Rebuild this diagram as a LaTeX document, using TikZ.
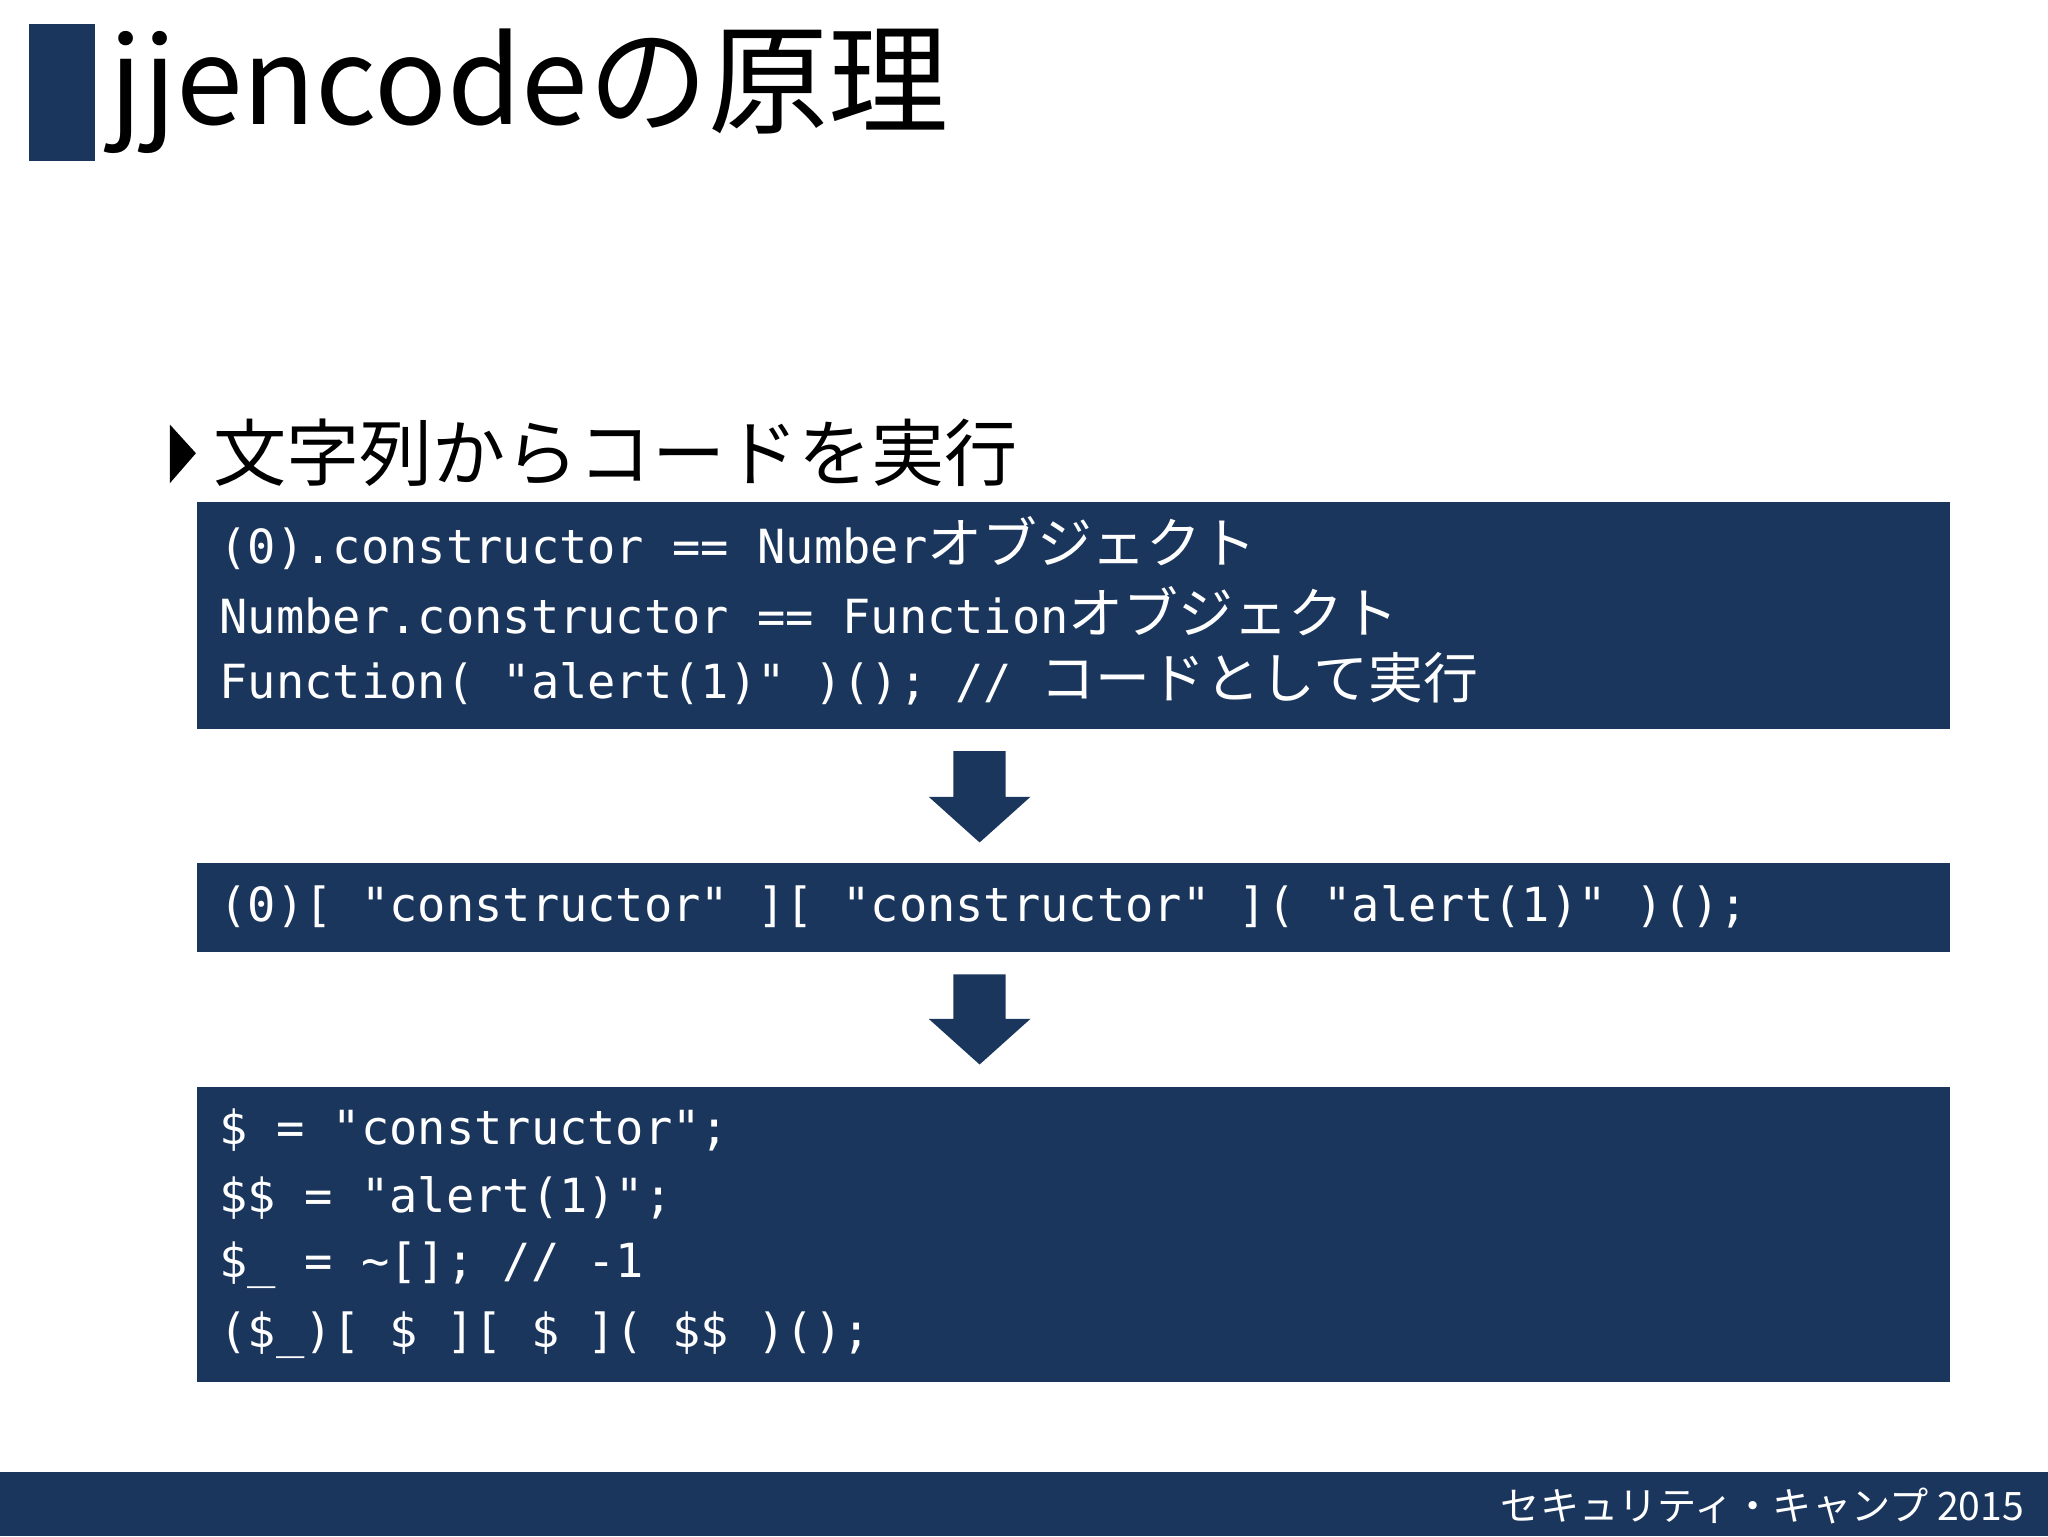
\documentclass[tikz,border=0pt]{standalone}
\usepackage{fontspec}
\setmainfont{Noto Sans CJK JP}
\newfontfamily\jp{Noto Sans CJK JP}
\newfontfamily\codef{DejaVu Sans Mono}
\definecolor{navy}{HTML}{1B365D}
\newcommand{\J}[1]{{\jp\fontsize{42}{42}\selectfont #1}}
\tikzset{codebox/.style={fill=navy,draw=none},
 codetxt/.style={anchor=west,text=white,font=\codef\fontsize{36}{36}\selectfont,inner sep=0pt},
 blockarrow/.style={fill=navy,draw=none}}
\begin{document}
\begin{tikzpicture}[x=1pt,y=-1pt]
\useasboundingbox (0,0) rectangle (1568,1176);
\fill[navy] (22,18) rectangle (73,123);
\node[anchor=base west,inner sep=0pt,font=\jp\fontsize{92}{92}\selectfont] (title) at (84,95) {jjencodeの原理};
\fill (130,325) -- (150,347) -- (130,370) -- cycle;
\node[anchor=base west,inner sep=0pt,font=\jp\fontsize{56}{56}\selectfont] (sub) at (163,368) {文字列からコードを実行};
\fill[codebox] (151,384) rectangle (1493,558);
\node[codetxt] (l1) at (168,416) {(0).constructor == Number\J{オブジェクト}};
\node[codetxt] (l2) at (168,468) {Number.constructor == Function\J{オブジェクト}};
\node[codetxt] (l3) at (168,520) {Function( "alert(1)" )(); // \J{コードとして実行}};
\fill[blockarrow] (730,575) -- (770,575) -- (770,610) -- (789,610) -- (750,645) -- (711,610) -- (730,610) -- cycle;
\fill[codebox] (151,661) rectangle (1493,729);
\node[codetxt] (m1) at (168,694) {(0)[ "constructor" ][ "constructor" ]( "alert(1)" )();};
\fill[blockarrow] (730,746) -- (770,746) -- (770,780) -- (789,780) -- (750,815) -- (711,780) -- (730,780) -- cycle;
\fill[codebox] (151,832) rectangle (1493,1058);
\node[codetxt] (b1) at (168,865) {\$ = "constructor";};
\node[codetxt] (b2) at (168,917) {\$\$ = "alert(1)";};
\node[codetxt] (b3) at (168,969) {\$\_ = \textasciitilde[]; // -1};
\node[codetxt] (b4) at (168,1022) {(\$\_)[ \$ ][ \$ ]( \$\$ )();};
\fill[navy] (0,1127) rectangle (1568,1176);
\node[anchor=east,text=white,inner sep=0pt,font=\jp\fontsize{30}{30}\selectfont] (foot) at (1550,1153) {セキュリティ・キャンプ 2015};
\end{tikzpicture}
\end{document}
